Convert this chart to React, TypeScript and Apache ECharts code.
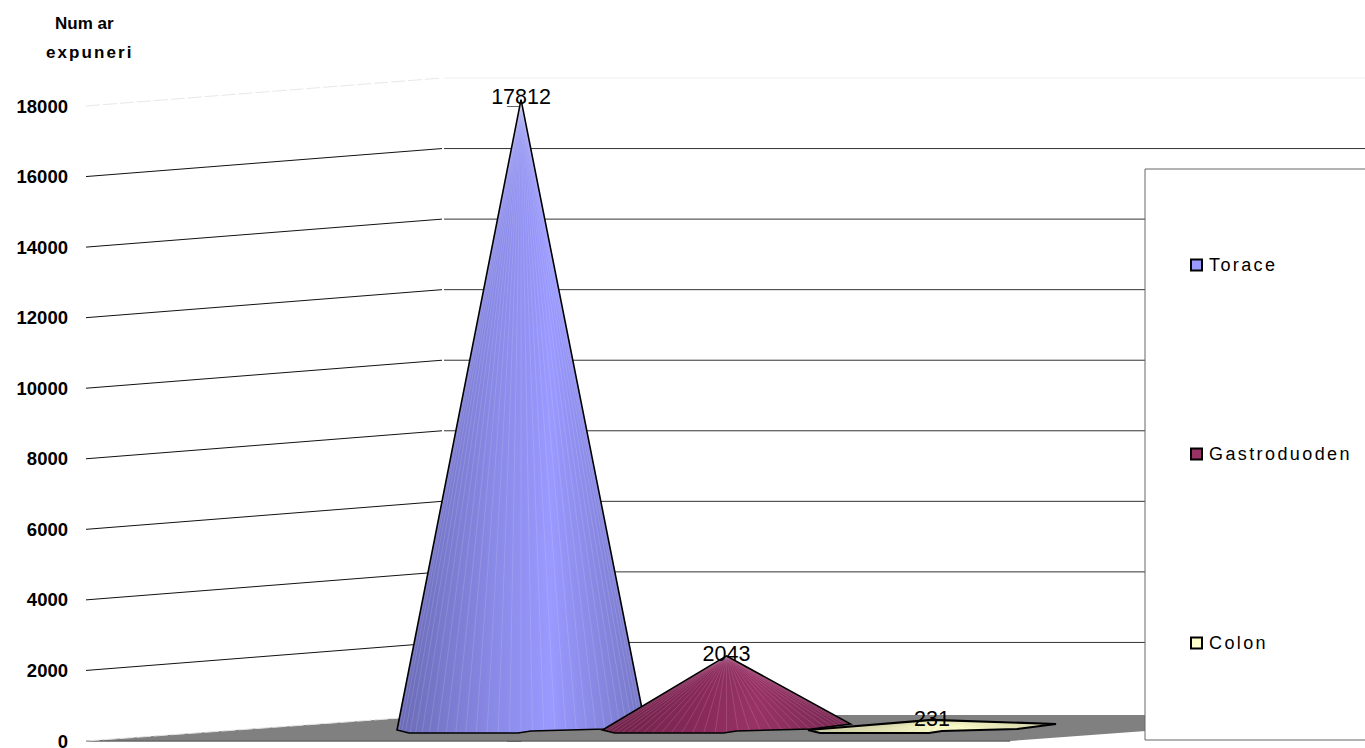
import React, { useEffect, useRef } from "react";
import * as echarts from "echarts";

const categories = ["Torace", "Gastroduoden", "Colon"];
const values = [17812, 2043, 231];
const yTicks = [0, 2000, 4000, 6000, 8000, 10000, 12000, 14000, 16000, 18000];
const axisTitle = "Num ar\nexpuneri";

const FONT = "'Liberation Sans', Arial, sans-serif";
const swatches = ["#9999FF", "#993366", "#FFFFCC"];
const shades = [
  ["#6a6ab6", "#8a8ae8", "#9999ff", "#7676c6"],
  ["#6f2249", "#88295a", "#993366", "#752650"],
  ["#c8c8a0", "#efefc0", "#ffffcc", "#d2d2a8"],
];
const seamColors = ["rgba(255,255,255,0.22)", "rgba(255,255,255,0.22)", "rgba(200,200,160,0.35)"];
const outlineWidths = [1.6, 1.6, 2.2];
const labelLift = [3, 2, 1];

// Outline of a cone's foot, relative to the base centre
const footPoints = [[-124, -3], [-112, 0], [-3, 0], [10, -2], [85, -4], [124, -9]];
const SEAM_COUNT = 34;

// Depth of the 3D box
const DEPTH_X = 356;
const DEPTH_Y = 28;
const FLOOR_DEPTH_Y = 26;

function footYAt(dx: number) {
  for (let i = 0; i < footPoints.length - 1; i++) {
    const [a, ay] = footPoints[i];
    const [b, by] = footPoints[i + 1];
    if (dx >= a && dx <= b) return ay + ((by - ay) * (dx - a)) / (b - a);
  }
  return 0;
}

function renderCone(index: number) {
  return (_: any, api: any) => {
    const v = api.value(1);
    const [cx] = api.coord([api.value(0), 0]);
    const baseY = api.coord([0, 0])[1] - 8;
    const apexY = api.coord([0, v])[1] - 13;
    const foot = footPoints.map(([dx, dy]) => [cx + dx, baseY + dy]);
    const apex = [cx, apexY];
    const children: any[] = [
      {
        type: "polygon",
        shape: { points: [apex, ...foot] },
        style: {
          fill: new echarts.graphic.LinearGradient(0, 0, 1, 0, [
            { offset: 0, color: shades[index][0] },
            { offset: 0.4, color: shades[index][1] },
            { offset: 0.62, color: shades[index][2] },
            { offset: 1, color: shades[index][3] },
          ]),
          stroke: "none",
        },
      },
    ];
    for (let i = 1; i < SEAM_COUNT; i++) {
      // Seams are spaced like a cone's facets seen from the side: tighter at the edges
      const dx = -124 * Math.cos((Math.PI * i) / SEAM_COUNT);
      children.push({
        type: "line",
        shape: { x1: apex[0], y1: apex[1], x2: cx + dx, y2: baseY + footYAt(dx) },
        style: { stroke: seamColors[index], lineWidth: 0.6 },
      });
    }
    children.push({
      type: "polygon",
      shape: { points: [apex, ...foot] },
      style: { fill: "none", stroke: "#000", lineWidth: outlineWidths[index], lineJoin: "miter" },
    });
    children.push({
      type: "text",
      style: {
        x: cx,
        y: apexY - labelLift[index],
        text: String(v),
        fill: "#000",
        font: `21.5px ${FONT}`,
        align: "center",
        verticalAlign: "middle",
      },
      z2: 50,
    });
    return { type: "group", children };
  };
}

function renderGrid(_: any, api: any) {
  const v = api.value(1);
  const [x0, y0] = api.coord([api.value(0), v]);
  const faint = v === 0 || v === 18000;
  const back = [x0 + DEPTH_X, y0 - (v === 0 ? FLOOR_DEPTH_Y : DEPTH_Y)];
  const w = api.getWidth();
  if (v === 0) {
    return {
      type: "line",
      shape: { x1: x0, y1: y0, x2: back[0], y2: back[1] },
      style: { stroke: "#e4e4e4", lineWidth: 1, lineDash: [14, 3] },
    };
  }
  return {
    type: "group",
    children: [
      {
        type: "line",
        shape: { x1: x0, y1: y0, x2: back[0], y2: back[1] },
        style: faint
          ? { stroke: "#e8e8e8", lineWidth: 1, lineDash: [14, 3] }
          : { stroke: "#111", lineWidth: 1 },
      },
      {
        type: "line",
        shape: { x1: back[0] + 2, y1: back[1], x2: w, y2: back[1] },
        style: { stroke: faint ? "#eeeeee" : "#333", lineWidth: 1 },
      },
    ],
  };
}

function renderFloor(_: any, api: any) {
  const [x0, y0] = api.coord([api.value(0), 0]);
  const [x1] = api.coord([api.value(1), 0]);
  return {
    type: "group",
    children: [
      {
        type: "polygon",
        shape: {
          points: [
            [x0, y0],
            [x0 + DEPTH_X, y0 - FLOOR_DEPTH_Y],
            [x1 + DEPTH_X, y0 - FLOOR_DEPTH_Y],
            [x1, y0],
          ],
        },
        style: { fill: "#808080", stroke: "none" },
      },
      {
        type: "line",
        shape: { x1: x0, y1: y0, x2: x1, y2: y0 },
        style: { stroke: "#666", lineWidth: 1.5 },
      },
    ],
  };
}

// The x scale is hidden: cones sit one unit apart
const X_MIN = -2.117;
const X_MAX = 4.107;
const FLOOR_END_X = 2.38;

export default function App() {
  const ref = useRef<HTMLDivElement>(null);
  useEffect(() => {
    document.body.style.margin = "0";
    const chart = echarts.init(ref.current!, undefined, { renderer: "svg" });
    chart.setOption({
      animation: false,
      backgroundColor: "#fff",
      grid: { left: 86, right: 0, top: 106, bottom: 7, outerBoundsMode: "none" },
      xAxis: { type: "value", show: false, min: X_MIN, max: X_MAX },
      yAxis: {
        type: "value",
        min: 0,
        max: 18000,
        interval: 2000,
        axisLine: { show: true, lineStyle: { color: "#666", width: 1 } },
        axisTick: { show: true, length: 14, lineStyle: { color: "#666", width: 1 } },
        axisLabel: {
          color: "#000",
          fontFamily: FONT,
          fontWeight: "bold",
          fontSize: 18.5,
          margin: 18,
          formatter: (v: number) => String(v),
        },
        splitLine: { show: false },
      },
      legend: {
        orient: "vertical",
        left: 1145,
        top: 169,
        z: 20,
        backgroundColor: "#fff",
        borderColor: "#666",
        borderWidth: 1,
        padding: [87, 140, 88, 45],
        itemGap: 171,
        itemWidth: 11,
        itemHeight: 11,
        selectedMode: false,
        textStyle: { color: "#000", fontFamily: FONT, fontSize: 18, padding: [0, 0, 0, 2] },
        data: categories.map((name, i) => ({
          name,
          icon: "rect",
          itemStyle: { color: swatches[i], borderColor: "#000", borderWidth: 2 },
        })),
      },
      graphic: [
        {
          type: "text",
          left: 55,
          top: 15,
          style: { text: axisTitle.split("\n")[0], fill: "#000", font: `bold 17px ${FONT}` },
        },
        {
          type: "text",
          left: 46,
          top: 44,
          style: { text: axisTitle.split("\n")[1], fill: "#000", font: `bold 17px ${FONT}` },
        },
      ],
      series: [
        {
          type: "custom",
          name: "floor",
          silent: true,
          clip: false,
          z: 1,
          renderItem: renderFloor,
          data: [[X_MIN, FLOOR_END_X]],
          encode: { x: [0, 1], y: [] },
        },
        {
          type: "custom",
          name: "grid",
          silent: true,
          clip: false,
          z: 1,
          renderItem: renderGrid,
          data: yTicks.map((t) => [X_MIN, t]),
          encode: { x: 0, y: 1 },
        },
        ...categories.map((name, i) => ({
          type: "custom",
          name,
          silent: true,
          clip: false,
          z: 3 + i,
          itemStyle: { color: swatches[i] },
          renderItem: renderCone(i),
          data: [[i, values[i]]],
          encode: { x: 0, y: 1 },
        })),
      ],
    });
    ref.current!.querySelectorAll("text").forEach((el) => {
      const t = el.textContent || "";
      if (categories.includes(t)) (el as any).style.letterSpacing = "2.4px";
      if (t === "expuneri") (el as any).style.letterSpacing = "2.1px";
    });
    return () => chart.dispose();
  }, []);
  return <div ref={ref} style={{ position: "absolute", left: 0, top: 0, width: 1365, height: 748, overflow: "hidden" }} />;
}
